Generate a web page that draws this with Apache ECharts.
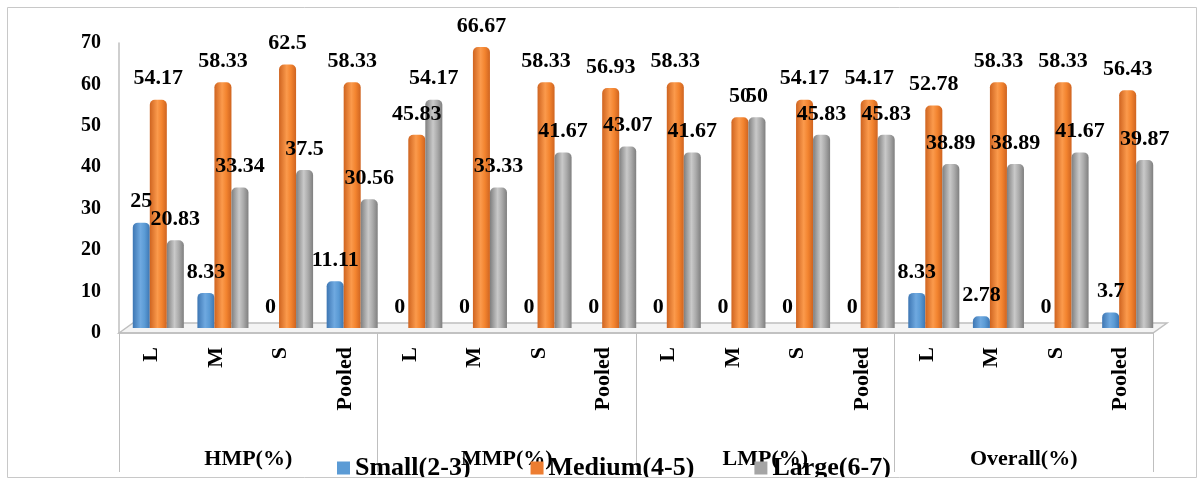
<!DOCTYPE html>
<html>
<head>
<meta charset="utf-8">
<script src="https://cdn.jsdelivr.net/npm/echarts@6/dist/echarts.min.js"></script>
<style>
  html, body { margin: 0; padding: 0; background: #fff; }
  #chart { width: 1204px; height: 479px; }
</style>
</head>
<body>
<div id="chart"></div>
<script>
// Farm size classes by market participation group
const groups = ['HMP(%)', 'MMP(%)', 'LMP(%)', 'Overall(%)'];
const categories = [
  'L', 'M', 'S', 'Pooled',
  'L', 'M', 'S', 'Pooled',
  'L', 'M', 'S', 'Pooled',
  'L', 'M', 'S', 'Pooled'
];
const seriesNames = ['Small(2-3)', 'Medium(4-5)', 'Large(6-7)'];
const smallValues  = [25, 8.33, 0, 11.11,   0, 0, 0, 0,             0, 0, 0, 0,            8.33, 2.78, 0, 3.7];
const mediumValues = [54.17, 58.33, 62.5, 58.33,  45.83, 66.67, 58.33, 56.93,  58.33, 50, 54.17, 54.17,  52.78, 58.33, 58.33, 56.43];
const largeValues  = [20.83, 33.34, 37.5, 30.56,  54.17, 33.33, 41.67, 43.07,  41.67, 50, 45.83, 45.83,  38.89, 38.89, 41.67, 39.87];
const yTicks = { min: 0, max: 70, interval: 10 };

const serif = '"Liberation Serif", "Times New Roman", serif';

function cylinder(dark, light, mid) {
  return new echarts.graphic.LinearGradient(0, 0, 1, 0, [
    { offset: 0, color: dark },
    { offset: 0.45, color: light },
    { offset: 0.7, color: mid },
    { offset: 1, color: dark }
  ]);
}

const styles = [
  cylinder('#3d76b3', '#6fa9e0', '#5b9bd5'),
  cylinder('#cf6420', '#fb9a4c', '#f3842f'),
  cylinder('#7f7f7f', '#c9c9c9', '#ababab')
];
const dataSets = [smallValues, mediumValues, largeValues];
const legendColors = ['#5b9bd5', '#ed7d31', '#a5a5a5'];

const chart = echarts.init(document.getElementById('chart'), null, { renderer: 'canvas' });

// Bars live in a second grid set back into the 3D floor depth
const series = dataSets.map((vals, i) => ({
  name: seriesNames[i],
  type: 'bar',
  xAxisIndex: 2,
  yAxisIndex: 1,
  data: vals,
  barGap: '0%',
  barCategoryGap: '21%',
  color: legendColors[i],
  itemStyle: { color: styles[i], borderRadius: [5, 5, 0, 0] },
  label: {
    show: true,
    position: 'top',
    distance: 10,
    color: '#000',
    fontFamily: serif,
    fontWeight: 'bold',
    fontSize: 22,
    formatter: p => String(p.value)
  }
}));

const axisGray = '#bfbfbf';

chart.setOption({
  animation: false,
  backgroundColor: '#fff',
  grid: [
    { left: 119, right: 51, top: 43, bottom: 146 },
    { left: 126, right: 44, top: 33, bottom: 151 }
  ],
  legend: {
    data: seriesNames.map((n, i) => ({ name: n, itemStyle: { color: legendColors[i] } })),
    left: 332,
    top: 450,
    icon: 'rect',
    itemWidth: 13,
    itemHeight: 13,
    itemGap: 60,
    textStyle: { fontFamily: serif, fontWeight: 'bold', fontSize: 26, color: '#000', padding: [0, 0, 12, 0] }
  },
  xAxis: [
    {
      type: 'category',
      gridIndex: 0,
      data: categories,
      position: 'bottom',
      axisLine: { show: true, lineStyle: { color: axisGray, width: 1.5 } },
      axisTick: { show: false },
      axisLabel: {
        rotate: 90,
        margin: 14,
        color: '#000',
        fontFamily: serif,
        fontWeight: 'bold',
        fontSize: 22,
        interval: 0
      }
    },
    {
      type: 'category',
      gridIndex: 0,
      data: groups,
      position: 'bottom',
      axisLine: { show: false },
      axisTick: { show: true, length: 139, lineStyle: { color: axisGray, width: 1 } },
      axisLabel: {
        margin: 115,
        color: '#000',
        fontFamily: serif,
        fontWeight: 'bold',
        fontSize: 22,
        interval: 0
      }
    },
    {
      type: 'category',
      gridIndex: 1,
      data: categories,
      show: false
    }
  ],
  yAxis: [
    {
      type: 'value',
      gridIndex: 0,
      min: yTicks.min,
      max: yTicks.max,
      interval: yTicks.interval,
      axisLine: { show: true, lineStyle: { color: axisGray, width: 1.5 } },
      axisTick: { show: false },
      splitLine: { show: false },
      axisLabel: {
        margin: 18,
        color: '#000',
        fontFamily: serif,
        fontWeight: 'bold',
        fontSize: 20
      }
    },
    {
      type: 'value',
      gridIndex: 1,
      min: yTicks.min,
      max: yTicks.max,
      interval: yTicks.interval,
      show: false,
      splitLine: { show: false }
    }
  ],
  series: series
});

// 3D-style floor under the bars plus the outer chart frame
function drawDecor() {
  const rect = chart.getModel().getComponent('grid', 0).coordinateSystem.getRect();
  const x0 = rect.x, x1 = rect.x + rect.width, y0 = rect.y + rect.height;
  const dx = 14, dy = 10;
  chart.setOption({
    graphic: [
      {
        type: 'polygon',
        z: -1,
        shape: { points: [[x0, y0], [x0 + dx, y0 - dy], [x1 + dx, y0 - dy], [x1, y0]] },
        style: { fill: '#f4f4f4', stroke: axisGray, lineWidth: 1.5 }
      },
      {
        type: 'rect',
        z: 99,
        silent: true,
        shape: { x: 0, y: 478, width: 1204, height: 2 },
        style: { fill: '#fff' }
      },
      {
        type: 'rect',
        z: 100,
        silent: true,
        shape: { x: 7.5, y: 7.5, width: 1189, height: 470 },
        style: { fill: null, stroke: '#c8c8c8', lineWidth: 1 }
      }
    ]
  });
}
drawDecor();
</script>
</body>
</html>
